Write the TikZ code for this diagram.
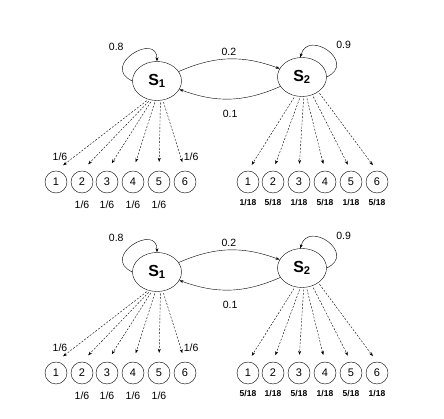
\documentclass[tikz,border=0pt]{standalone}
\usepackage{fontspec}
\setmainfont{Liberation Sans}
\usetikzlibrary{positioning,arrows.meta,shapes.geometric}

\begin{document}
\begin{tikzpicture}
    [x=1pt,y=1pt,>={Stealth[length=4pt,width=3pt]},
     state/.style={ellipse,draw,minimum width=49pt,minimum height=39pt,inner sep=0pt,
       font=\fontsize{16}{18}\selectfont\bfseries},
     face/.style={circle,draw,minimum size=22pt,inner sep=0pt,font=\fontsize{11}{12}\selectfont},
     emit/.style={->,dash pattern=on 2pt off 1.5pt,shorten <=2pt},
     prob/.style={font=\fontsize{10.5}{12}\selectfont,inner sep=1pt},
     emis/.style={font=\fontsize{8.5}{9}\selectfont\bfseries,inner sep=1pt}]
  \useasboundingbox (0,0) rectangle (444,419);

  % upper and lower model, same chain, other die for S2
  \foreach \h/\dy/\po/\pe in {a/0/1/5,b/-191/5/1}{
  \begin{scope}[yshift=\dy]
    \node[state] (s1\h) at (157,338) {S\textsubscript{1}};
    \node[state] (s2\h) at (302,342) {S\textsubscript{2}};

    \draw[->] (s1\h.west) .. controls +(155:36) and +(90:30) .. (s1\h.north)
      node[prob,pos=0.4,above left=3pt,yshift=5pt] (p11\h) {0.8};
    \draw[->] (s2\h.east) .. controls +(25:34) and +(75:30) .. (s2\h.95)
      node[prob,pos=0.4,above right=3pt,yshift=4pt] (p22\h) {0.9};
    \path (s1\h) edge[->,bend left=22] node[prob,above=2pt] (p12\h) {0.2} (s2\h)
          (s2\h) edge[->,bend left=22] node[prob,below=10pt] (p21\h) {0.1} (s1\h);

    % die faces
    \foreach \x [count=\i] in {56,82,107,133,159,185}
      \node[face] (dl\h\i) at (\x,237) {\i};
    \foreach \x [count=\i] in {248,273,299,325,351,377}
      \node[face] (dr\h\i) at (\x,237) {\i};

    % emissions of S1
    \draw[emit,shorten >=9pt] (s1\h.245) -- (dl\h1.north)
      node[prob,pos=0.8,left=6pt] (el\h1) {1/6};
    \foreach \i/\a in {2/250,3/255,4/265,5/280}
      \draw[emit,shorten >=9pt] (s1\h.\a) -- (dl\h\i.north);
    \draw[emit,shorten >=9pt] (s1\h.287) -- (dl\h6.north)
      node[prob,pos=0.8,right=2pt] (el\h6) {1/6};
    \foreach \i in {2,...,5}
      \node[prob,below=6pt of dl\h\i] (el\h\i) {1/6};

    % emissions of S2
    \foreach \i/\a in {1/250,2/265,3/275,4/283,5/300,6/318}{
      \draw[emit,shorten >=7pt] (s2\h.\a) -- (dr\h\i.north);
      \node[emis,below=5pt of dr\h\i] (er\h\i) {\ifodd\i\relax\po\else\pe\fi/18};
    }
  \end{scope}}
\end{tikzpicture}
\end{document}
